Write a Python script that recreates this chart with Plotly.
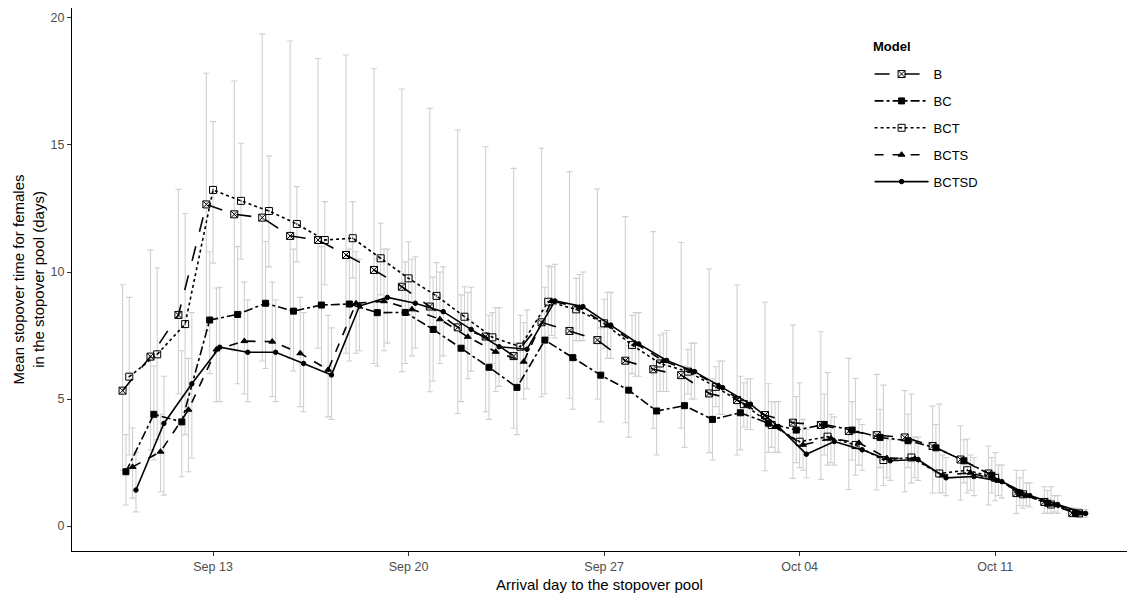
import pandas as pd
import plotly.graph_objects as go

dates = pd.date_range("2021-09-10", "2021-10-14", freq="D")
models = ["B", "BC", "BCT", "BCTS", "BCTSD"]

B_mean = [5.33, 6.67, 8.31, 12.66, 12.27, 12.14, 11.42, 11.26, 10.67, 10.08, 9.42, 8.64, 7.82, 7.46, 6.69,
          8.02, 7.68, 7.32, 6.51, 6.17, 5.94, 5.22, 4.96, 4.37, 4.07, 3.98, 3.74, 3.58, 3.49, 3.15, 2.62, 2.07, 1.30, 0.95, 0.52]
B_low = [2.2, 3.0, 5.2, 7.7, 6.9, 6.5, 6.6, 7.0, 6.8, 6.4, 6.08, 5.29, 4.43, 4.5, 3.85,
         5.09, 5.03, 5.0, 4.07, 3.85, 3.85, 2.89, 2.8, 2.18, 1.88, 1.84, 1.44, 1.42, 1.35, 1.3, 1.02, 0.83, 0.5, 0.5, 0.35]
B_up = [9.5, 10.87, 13.25, 17.82, 17.52, 19.37, 19.09, 18.4, 18.54, 18.0, 17.2, 16.44, 15.59, 14.93, 14.08,
        14.87, 13.95, 13.27, 12.18, 11.59, 11.16, 10.12, 9.49, 8.81, 7.91, 7.65, 6.6, 5.97, 5.33, 4.72, 3.95, 3.15, 2.2, 1.55, 0.7]

BC_mean = [2.14, 4.40, 4.10, 8.11, 8.33, 8.77, 8.46, 8.70, 8.74, 8.40, 8.41, 7.74, 7.00, 6.25, 5.46,
           7.32, 6.63, 5.94, 5.35, 4.53, 4.74, 4.20, 4.46, 4.05, 3.78, 4.00, 3.78, 3.49, 3.36, 3.08, 2.57, 2.00, 1.30, 0.90, 0.50]
BC_low = [0.83, 2.6, 1.94, 6.0, 5.6, 6.2, 6.1, 6.3, 6.5, 6.3, 6.4, 5.7, 4.9, 4.2, 3.6,
          5.2, 4.6, 4.1, 3.5, 2.8, 3.1, 2.6, 3.0, 2.9, 2.5, 2.8, 2.6, 2.3, 2.3, 2.1, 1.7, 1.3, 0.8, 0.5, 0.35]
BC_up = [3.6, 6.3, 6.9, 10.8, 11.0, 11.2, 10.9, 11.0, 10.9, 10.5, 10.4, 9.8, 9.1, 8.3, 7.2,
         9.4, 8.6, 7.8, 7.1, 6.3, 6.3, 5.8, 5.9, 5.6, 5.1, 5.2, 4.9, 4.6, 4.4, 4.0, 3.4, 2.7, 1.9, 1.4, 0.7]

BCT_mean = [5.88, 6.76, 7.95, 13.23, 12.80, 12.40, 11.89, 11.26, 11.33, 10.54, 9.75, 9.06, 8.24, 7.43, 7.06,
            8.83, 8.53, 7.98, 7.13, 6.40, 6.08, 5.48, 4.80, 3.98, 3.32, 3.52, 3.19, 2.60, 2.70, 2.07, 2.20, 1.90, 1.25, 0.85, 0.50]
BCT_low = [2.8, 3.4, 3.6, 10.35, 10.5, 10.2, 10.4, 9.5, 9.76, 9.1, 8.3, 7.7, 7.0, 6.4, 5.8,
           7.4, 7.3, 7.0, 6.0, 5.3, 5.2, 4.7, 3.9, 3.1, 2.3, 2.4, 2.0, 1.6, 1.7, 1.3, 1.3, 1.0, 0.7, 0.5, 0.35]
BCT_up = [9.0, 10.16, 12.3, 15.92, 15.07, 14.57, 13.36, 12.77, 12.77, 11.92, 11.19, 10.37, 9.42, 8.4, 8.3,
          10.24, 9.75, 8.93, 8.3, 7.52, 6.96, 6.27, 5.64, 4.9, 5.64, 6.04, 5.81, 5.55, 5.2, 4.8, 3.43, 2.89, 2.2, 1.55, 0.7]

BCTS_mean = [2.33, 2.93, 4.58, 6.95, 7.28, 7.26, 6.80, 6.15, 8.77, 8.85, 8.53, 8.14, 7.45, 6.86, 6.47,
             8.86, 8.60, 7.90, 7.18, 6.50, 6.10, 5.50, 4.77, 3.90, 3.20, 3.45, 3.28, 2.68, 2.65, 2.00, 2.10, 1.78, 1.20, 0.85, 0.50]
BCTS_low = [1.1, 1.35, 2.14, 4.9, 5.2, 5.1, 4.7, 4.3, 6.8, 6.9, 6.7, 6.4, 5.8, 5.3, 5.0,
            7.5, 7.3, 6.6, 5.9, 5.3, 5.0, 4.4, 3.8, 2.9, 2.2, 2.5, 2.4, 1.9, 1.9, 1.3, 1.4, 1.2, 0.8, 0.55, 0.35]
BCTS_up = [3.86, 4.4, 6.6, 9.37, 9.6, 9.6, 9.0, 8.3, 10.8, 10.9, 10.5, 10.0, 9.2, 8.6, 8.0,
           10.2, 9.9, 9.2, 8.4, 7.6, 7.2, 6.5, 5.8, 4.9, 4.2, 4.4, 4.2, 3.5, 3.5, 2.8, 2.8, 2.4, 1.7, 1.2, 0.65]

BCTSD_mean = [1.42, 4.04, 5.60, 7.04, 6.84, 6.84, 6.40, 5.95, 8.66, 9.00, 8.77, 8.44, 7.74, 7.06, 6.96,
              8.86, 8.64, 7.91, 7.17, 6.52, 6.08, 5.45, 4.80, 3.92, 2.83, 3.33, 3.00, 2.57, 2.62, 1.90, 1.95, 1.75, 1.20, 0.85, 0.50]
BCTSD_low = [0.56, 1.22, 2.68, 4.9, 4.9, 4.9, 4.5, 4.2, 6.9, 7.2, 7.0, 6.7, 6.1, 5.5, 5.4,
             7.4, 7.3, 6.6, 5.9, 5.3, 5.0, 4.4, 3.8, 2.9, 1.9, 2.4, 2.2, 1.8, 1.8, 1.2, 1.2, 1.1, 0.75, 0.5, 0.35]
BCTSD_up = [2.9, 5.9, 8.4, 9.4, 8.9, 8.9, 8.4, 7.8, 10.5, 10.9, 10.6, 10.2, 9.4, 8.6, 8.5,
            10.3, 10.0, 9.2, 8.4, 7.7, 7.2, 6.5, 5.8, 4.9, 3.8, 4.3, 4.0, 3.4, 3.5, 2.7, 2.7, 2.4, 1.7, 1.2, 0.65]

series = {
    "B": (B_mean, B_low, B_up),
    "BC": (BC_mean, BC_low, BC_up),
    "BCT": (BCT_mean, BCT_low, BCT_up),
    "BCTS": (BCTS_mean, BCTS_low, BCTS_up),
    "BCTSD": (BCTSD_mean, BCTSD_low, BCTSD_up),
}

dodge_days = {"B": -0.24, "BC": -0.12, "BCT": 0.0, "BCTS": 0.12, "BCTSD": 0.24}
styles = {
    "B": dict(dash="longdash", symbol="square-x-open", size=7),
    "BC": dict(dash="dashdot", symbol="square", size=6),
    "BCT": dict(dash="dot", symbol="square-open-dot", size=7),
    "BCTS": dict(dash="dash", symbol="triangle-up", size=6),
    "BCTSD": dict(dash="solid", symbol="circle", size=4.5),
}

FONT = "Liberation Sans, Arial, sans-serif"
fig = go.Figure()

# error bars first (under all lines)
for m in models:
    mean, low, up = series[m]
    xs = dates + pd.to_timedelta(dodge_days[m], unit="D")
    fig.add_trace(go.Scatter(
        x=xs, y=mean, mode="markers",
        marker=dict(size=1, color="rgba(0,0,0,0)"),
        error_y=dict(type="data", symmetric=False,
                     array=[u - v for u, v in zip(up, mean)],
                     arrayminus=[v - l for v, l in zip(mean, low)],
                     color="#d0d0d0", thickness=1.1, width=3),
        showlegend=False, hoverinfo="skip"))

for m in models:
    mean, low, up = series[m]
    xs = dates + pd.to_timedelta(dodge_days[m], unit="D")
    st = styles[m]
    fig.add_trace(go.Scatter(
        x=xs, y=mean, mode="lines+markers", name=m, legendgroup=m,
        line=dict(color="black", width=1.6, dash=st["dash"]),
        marker=dict(symbol=st["symbol"], size=st["size"], color="black",
                    line=dict(color="black", width=1))))

# page body adds an 8px offset; the figure is sized so it fills the window
fig.update_layout(
    width=1127, height=592,
    margin=dict(l=64, r=8, t=0, b=49, autoexpand=False),
    plot_bgcolor="white", paper_bgcolor="white",
    font=dict(family=FONT, size=13, color="black"),
    legend=dict(x=0.756, y=0.906, xanchor="left", yanchor="top",
                font=dict(size=13), bgcolor="rgba(0,0,0,0)",
                tracegroupgap=7, itemwidth=54),
    showlegend=True,
    annotations=[dict(text="<b>Model</b>", xref="paper", yref="paper",
                      x=0.757, y=0.930, xanchor="left", yanchor="middle",
                      showarrow=False, font=dict(size=13, color="black"))],
)
fig.update_xaxes(
    range=["2021-09-07 22:48", "2021-10-15 17:17"],
    tick0="2021-09-13", dtick=7 * 86400000, tickformat="%b %d",
    showgrid=False, zeroline=False, automargin=False,
    showline=True, linecolor="black", linewidth=1.2,
    ticks="outside", ticklen=4, tickcolor="#333333",
    tickfont=dict(size=12.5, color="#4d4d4d"),
    title=dict(text="Arrival day to the stopover pool", font=dict(size=15), standoff=6),
)
fig.update_yaxes(
    range=[-0.98, 20.39], tickvals=[0, 5, 10, 15, 20],
    showgrid=False, zeroline=False, automargin=False,
    showline=True, linecolor="black", linewidth=1.2,
    ticks="outside", ticklen=4, tickcolor="#333333",
    tickfont=dict(size=12.5, color="#4d4d4d"),
    title=dict(text="Mean stopover time for females<br>in the stopover pool (days)",
               font=dict(size=15), standoff=2),
)

fig.write_html("out.html")
